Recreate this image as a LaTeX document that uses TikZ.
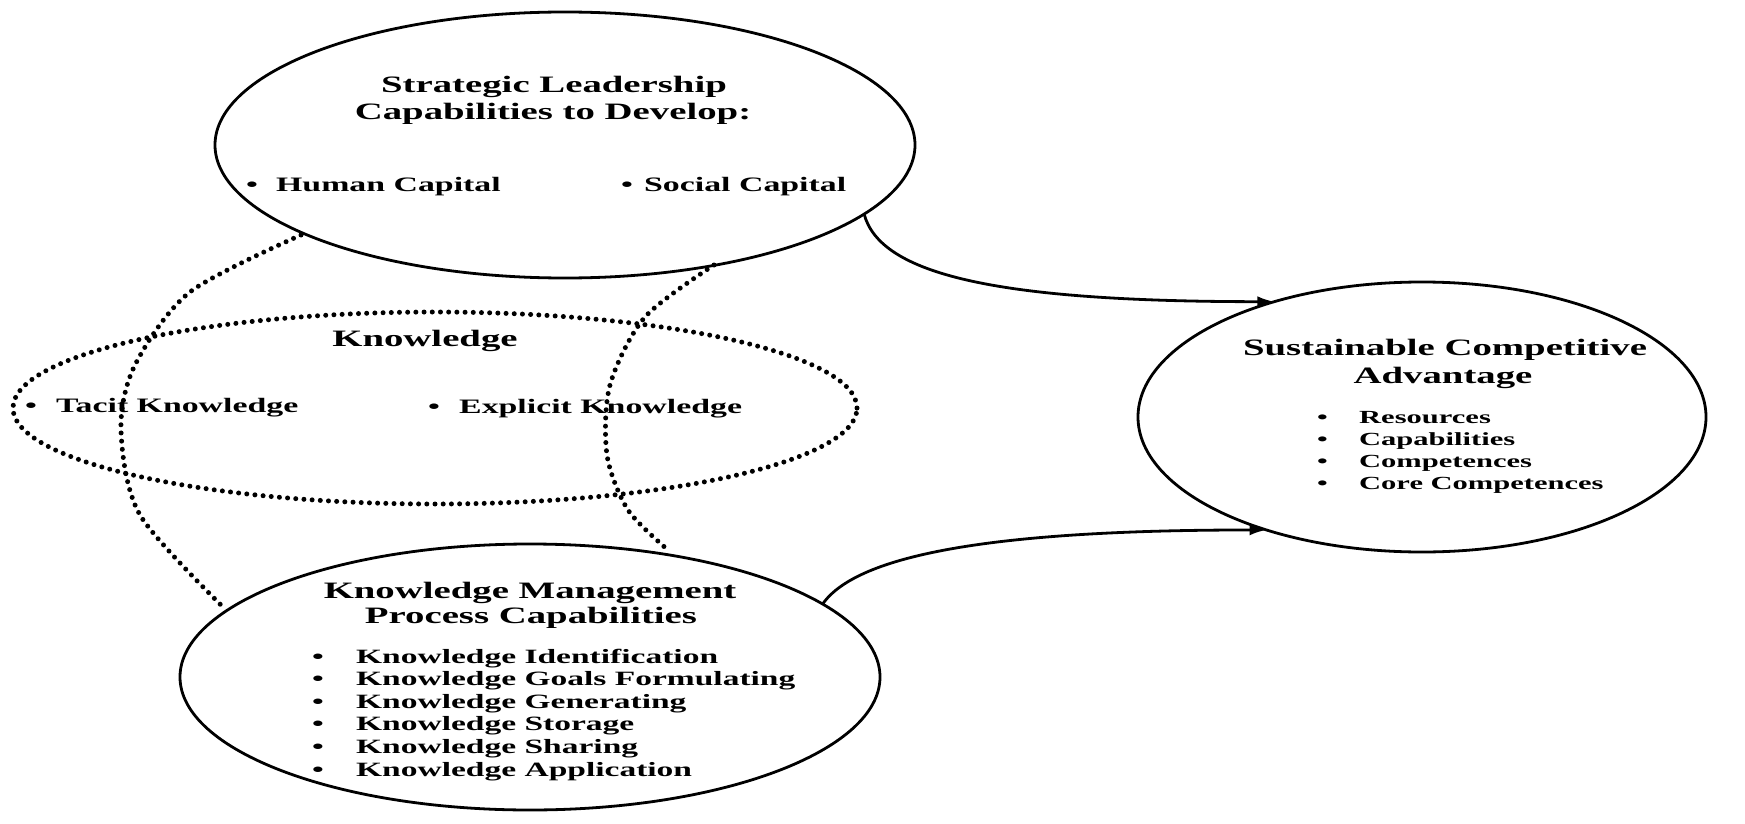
\documentclass[tikz,border=0pt]{standalone}
\usepackage{fontspec}
\setmainfont{Liberation Serif}[FakeStretch=1.65]
\usetikzlibrary{arrows.meta,shapes.geometric}
\newcommand{\bul}[1]{\makebox[#1][l]{\textbullet}}
\tikzset{
  oval/.style={draw, ellipse, line width=2.8pt, inner sep=0pt, outer sep=0pt},
  dotline/.style={line width=5pt, dash pattern=on 0pt off 8.2pt, line cap=round},
  arr/.style={line width=2.8pt, -{Latex[length=17pt,width=11pt]}},
  ttl/.style={font=\fontsize{23.5}{27}\selectfont\bfseries, anchor=base, inner sep=0pt},
  itm/.style={font=\fontsize{19.8}{22.6}\selectfont\bfseries, anchor=base west, inner sep=0pt},
  itmA/.style={itm, font=\fontsize{20.5}{22.6}\selectfont\bfseries},
  itmR/.style={itm, font=\fontsize{18.5}{22}\selectfont\bfseries},
  itmB/.style={itm, font=\fontsize{20.3}{22.6}\selectfont\bfseries},
}
\begin{document}
\begin{tikzpicture}[x=1pt,y=-1pt]
\fill[white] (0,0) rectangle (1745,824);
\useasboundingbox (0,0) rectangle (1745,824);

% ellipses
\node[oval, minimum width=700pt, minimum height=266pt] (slc) at (565,145) {};
\node[oval, minimum width=568pt, minimum height=270pt] (sadv) at (1422,417) {};
\node[oval, minimum width=700pt, minimum height=266pt] (kmp) at (530,677) {};
\node[draw, ellipse, dotline, inner sep=0pt, minimum width=844pt, minimum height=192pt] (know) at (435,408) {};

% dotted arcs
\draw[dotline] plot[smooth] coordinates {(301,235) (190,292) (135,365) (121,430) (140,515) (224,608)};
\draw[dotline] plot[smooth] coordinates {(714,265) (645,317) (610,385) (607,455) (628,510) (668,550)};

% arrows
\draw[arr] (slc.-13) .. controls +(16,60) and +(-280,0) .. (sadv.142);
\draw[arr] (kmp.14) .. controls +(35,-50) and +(-270,0) .. (sadv.-144);

% top ellipse text
\node[ttl] (t1) at (554,93) {Strategic Leadership};
\node[ttl] (t2) at (553,120) {Capabilities to Develop:};
\node[itmA] (hc) at (246,191) {\bul{30pt}Human Capital};
\node[itmA] (sc) at (621,191) {\bul{23pt}Social Capital};

% knowledge
\node[ttl] (kt) at (425,346) {Knowledge};
\node[itmA] (tk) at (25,412) {\bul{31pt}Tacit Knowledge};
\node[itmA] (ek) at (428,413) {\bul{31pt}Explicit Knowledge};

% right ellipse
\node[ttl] (s1) at (1445,355) {Sustainable Competitive};
\node[ttl] (s2) at (1443,383) {Advantage};
\foreach \t [count=\i] in {Resources, Capabilities, Competences, Core Competences}
  \node[itmR] (ra\i) at (1317,{401+22*\i}) {\bul{42pt}\t};

% bottom ellipse
\node[ttl] (k1) at (530,598) {Knowledge Management};
\node[ttl] (k2) at (531,623) {Process Capabilities};
\foreach \t [count=\i] in {Knowledge Identification, Knowledge Goals Formulating, Knowledge Generating, Knowledge Storage, Knowledge Sharing, Knowledge Application}
  \node[itmB] (ba\i) at (312,{640.4+22.6*\i}) {\bul{44pt}\t};
\end{tikzpicture}
\end{document}
